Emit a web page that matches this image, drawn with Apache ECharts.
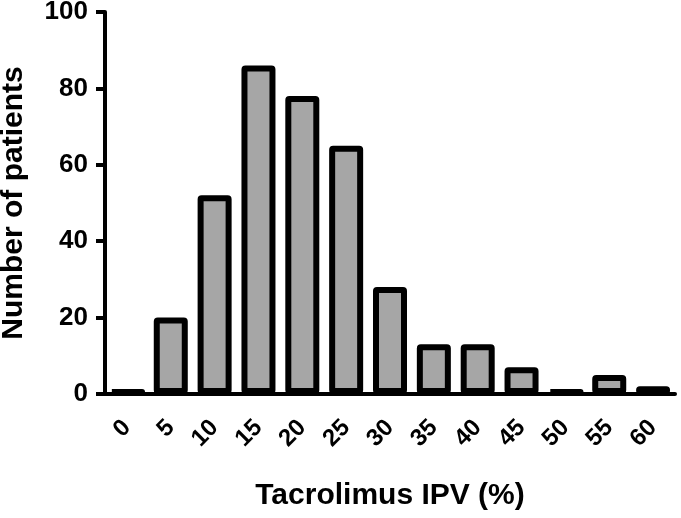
<!DOCTYPE html>
<html><head><meta charset="utf-8">
<script src="https://cdn.jsdelivr.net/npm/echarts@6/dist/echarts.min.js"></script>
<style>html,body{margin:0;padding:0;background:#fff}#c{width:681px;height:518px}</style>
</head><body><div id="c"></div>
<script>
var categories = ['0','5','10','15','20','25','30','35','40','45','50','55','60'];
var patients = [1,20,52,86,78,65,28,13,13,7,1,5,2];
var yTicks = {min:0, max:100, interval:20};
var FONT = '"Liberation Sans", Arial, sans-serif';
var chart = echarts.init(document.getElementById('c'));
chart.setOption({
  animation:false,
  grid:{left:105, right:6, top:12, bottom:124, containLabel:false, outerBoundsMode:'none'},
  xAxis:{
    type:'category', data:categories,
    name:'Tacrolimus IPV (%)', nameLocation:'middle', nameGap:87,
    nameTextStyle:{fontFamily:FONT, fontWeight:'bold', fontSize:30, color:'#000'},
    axisLine:{lineStyle:{color:'#000', width:4}},
    axisTick:{alignWithLabel:true, interval:0, length:10, lineStyle:{color:'#000', width:4}},
    axisLabel:{interval:0, hideOverlap:false, rotate:45, fontFamily:FONT, fontWeight:'bold', fontSize:24, color:'#000', margin:30}
  },
  yAxis:{
    type:'value', min:yTicks.min, max:yTicks.max, interval:yTicks.interval,
    name:'Number of patients', nameLocation:'middle', nameGap:76,
    nameTextStyle:{fontFamily:FONT, fontWeight:'bold', fontSize:30, color:'#000'},
    axisLine:{show:true, lineStyle:{color:'#000', width:4}},
    axisTick:{show:true, length:9, lineStyle:{color:'#000', width:4}},
    splitLine:{show:false},
    axisLabel:{fontFamily:FONT, fontWeight:'bold', fontSize:26, color:'#000', margin:17}
  },
  series:[{
    type:'bar', data:patients, barWidth:34, clip:false,
    itemStyle:{color:'#a6a6a6', borderColor:'#000', borderWidth:6, borderJoin:'round', borderRadius:1}
  }]
});
</script></body></html>
